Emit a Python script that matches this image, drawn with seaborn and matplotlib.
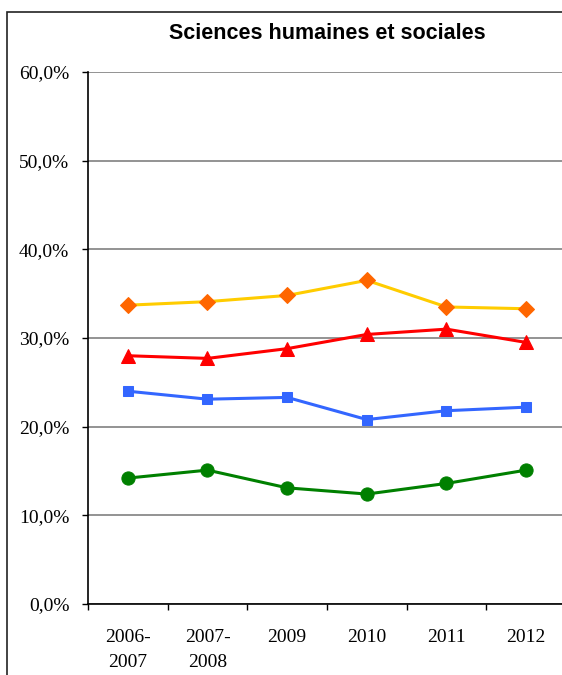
import numpy as np
import pandas as pd
import matplotlib
matplotlib.use('Agg')
import matplotlib.pyplot as plt
import matplotlib.ticker as mticker
from matplotlib.patches import Rectangle
import seaborn as sns

sns.set_style('white')
plt.rcParams['font.family'] = ['Liberation Serif', 'DejaVu Serif']
plt.rcParams['text.color'] = 'black'
plt.rcParams['xtick.color'] = 'black'
plt.rcParams['ytick.color'] = 'black'

# data
years = ['2006-\n2007', '2007-\n2008', '2009', '2010', '2011', '2012']
yellow = [33.7, 34.1, 34.8, 36.5, 33.5, 33.3]
red = [28.0, 27.7, 28.8, 30.4, 31.0, 29.5]
blue = [24.0, 23.1, 23.3, 20.8, 21.8, 22.2]
green = [14.2, 15.1, 13.1, 12.4, 13.6, 15.1]

series = [
    (yellow, '#FFCC00', '#FF6600', 'D', 8),
    (red, '#FF0000', '#FF0000', '^', 10),
    (blue, '#3366FF', '#3366FF', 's', 7),
    (green, '#008000', '#008000', 'o', 9.5),
]

fig = plt.figure(figsize=(5.62, 6.75), dpi=100)
ax = fig.add_axes([88 / 562, 71 / 675, 478 / 562, 532 / 675])

pos = np.arange(len(years))
for vals, lc, mc, mk, ms in series:
    df = pd.DataFrame({'x': pos, 'y': vals})
    sns.lineplot(data=df, x='x', y='y', ax=ax, color=lc, linewidth=2.2,
                 marker=mk, markersize=ms, markerfacecolor=mc,
                 markeredgecolor=mc, legend=False)

ax.set_xlim(-0.5, len(years) - 0.5)
ax.set_ylim(0, 60)
ax.yaxis.set_major_locator(mticker.MultipleLocator(10))
ax.yaxis.set_major_formatter(mticker.FuncFormatter(
    lambda v, p: '{:.1f}%'.format(v).replace('.', ',')))
ax.grid(axis='y', color='#808080', linewidth=1.2)
ax.set_axisbelow(True)

# category boundaries as ticks, labels in the middle
ax.set_xticks(np.arange(-0.5, len(years), 1.0))
ax.set_xticklabels([])
ax.set_xticks(pos, minor=True)
ax.set_xticklabels(years, minor=True, fontsize=14, linespacing=1.65)
ax.tick_params(axis='x', which='minor', length=0, pad=18)
ax.tick_params(axis='x', which='major', direction='out', length=4.5, width=1, color='black', bottom=True)
ax.tick_params(axis='y', direction='out', length=4.5, width=1, color='black', left=True,
               labelsize=14, pad=9)
for lbl in ax.get_xticklabels(minor=True):
    lbl.set_verticalalignment('top')

for s in ['top', 'right']:
    ax.spines[s].set_visible(False)
for s in ['left', 'bottom']:
    ax.spines[s].set_color('black')
    ax.spines[s].set_linewidth(1.2)

ax.set_xlabel('')
ax.set_ylabel('')
ax.set_title('Sciences humaines et sociales', fontsize=15.5, fontweight='bold',
             family=['Liberation Sans', 'DejaVu Sans'], color='black', pad=24)

# outer chart frame
fig.patches.append(Rectangle((7 / 562, -0.1), 1.0, 1 - 12 / 675 + 0.1,
                             transform=fig.transFigure, fill=False,
                             edgecolor='#222222', linewidth=1.2))

fig.savefig('out.png', dpi=100)
